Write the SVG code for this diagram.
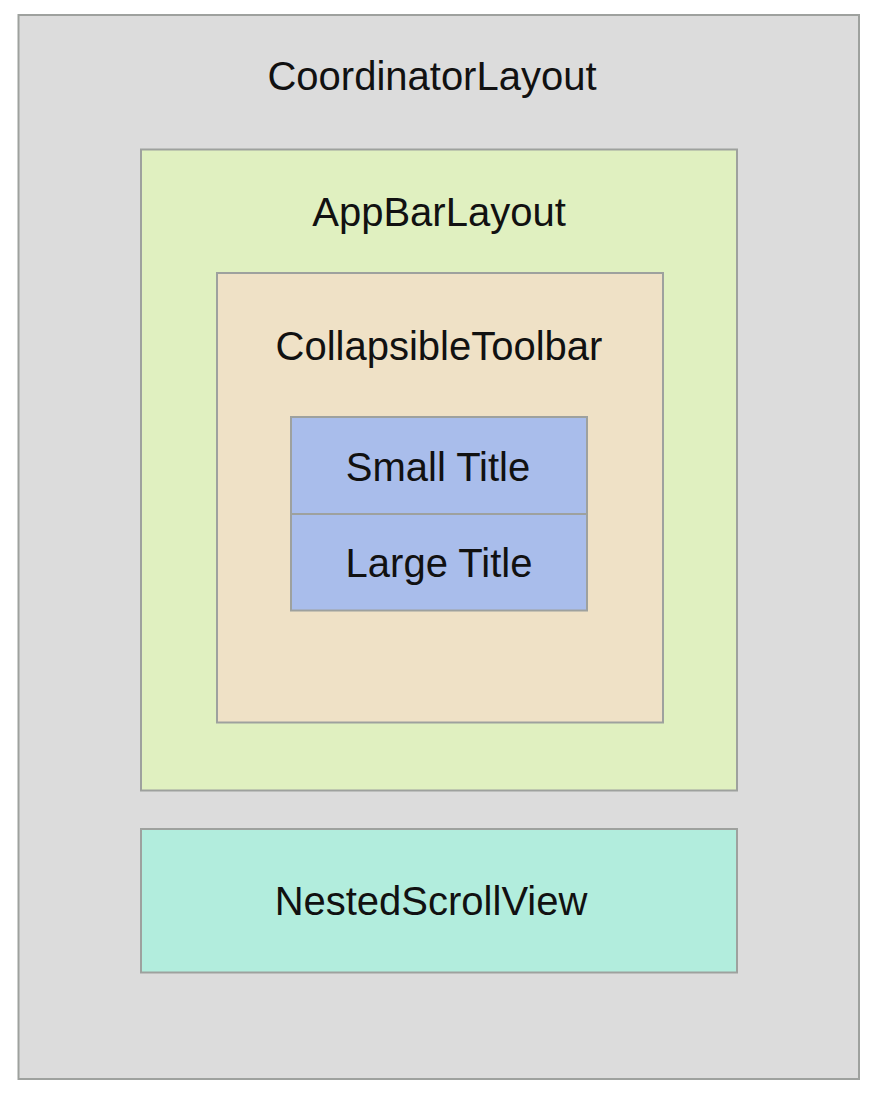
<svg xmlns="http://www.w3.org/2000/svg" width="874" height="1096" viewBox="0 0 874 1096">
<style>
  .box { stroke: #9ea19e; stroke-width: 2; }
  .lbl { font-family: "Liberation Sans", Arial, sans-serif; font-size: 40px; fill: #111111; text-anchor: middle; }
</style>
<rect x="0" y="0" width="874" height="1096" fill="#ffffff"/>
<g id="coordinator">
  <rect class="box" x="18.5" y="15" width="840.5" height="1064" fill="#dcdcdc"/>
  <text class="lbl" x="432" y="90">CoordinatorLayout</text>
</g>
<g id="appbar">
  <rect class="box" x="141" y="149.5" width="596" height="641" fill="#e0f0c0"/>
  <text class="lbl" x="439" y="226">AppBarLayout</text>
</g>
<g id="collapsible">
  <rect class="box" x="217" y="273" width="446" height="449.5" fill="#efe1c6"/>
  <text class="lbl" x="439" y="360">CollapsibleToolbar</text>
</g>
<g id="smalltitle">
  <rect class="box" x="291" y="417" width="296" height="97" fill="#a9bdeb"/>
  <text class="lbl" x="438" y="481">Small Title</text>
</g>
<g id="largetitle">
  <rect class="box" x="291" y="514" width="296" height="96.5" fill="#a9bdeb"/>
  <text class="lbl" x="439" y="577">Large Title</text>
</g>
<g id="nestedscroll">
  <rect class="box" x="141" y="829" width="596" height="143.5" fill="#b2eddd"/>
  <text class="lbl" x="431" y="915">NestedScrollView</text>
</g>
<g id="connectors"></g>
</svg>
